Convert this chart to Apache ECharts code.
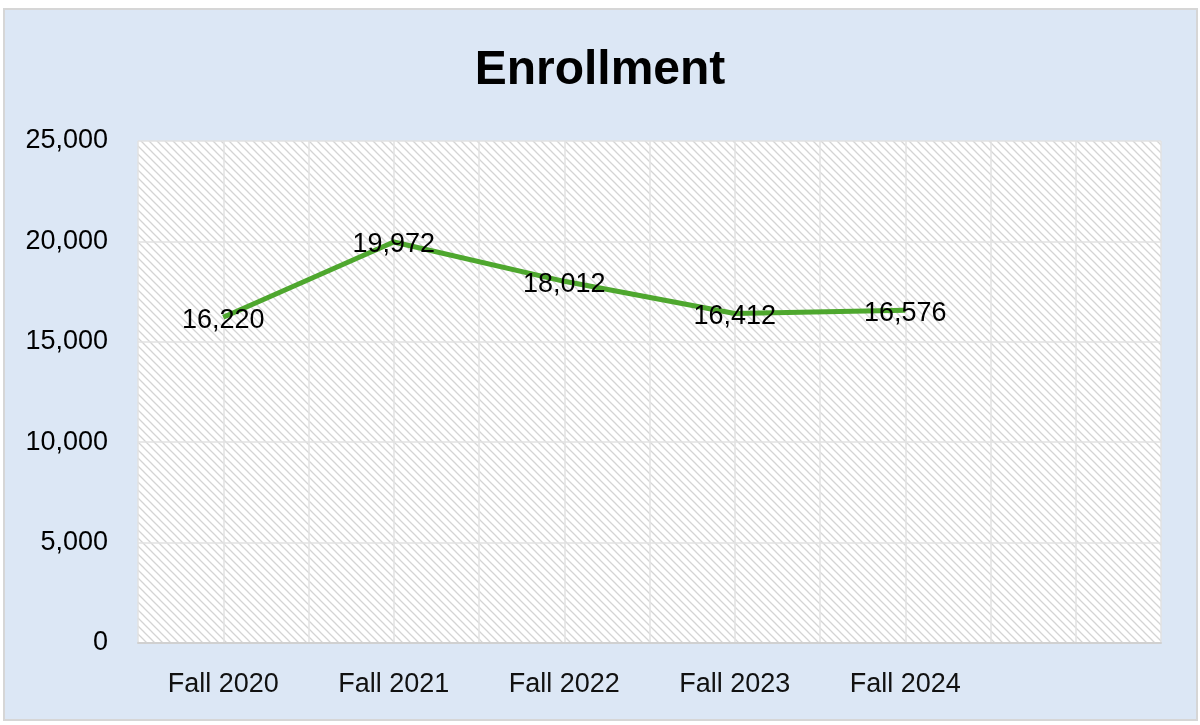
<!DOCTYPE html>
<html>
<head>
<meta charset="utf-8">
<script src="https://cdn.jsdelivr.net/npm/echarts@6/dist/echarts.min.js"></script>
<style>
html,body{margin:0;padding:0;background:#fff;}
#chart{width:1200px;height:725px;}
</style>
</head>
<body>
<div id="chart"></div>
<script>
const categories = ['Fall 2020', 'Fall 2021', 'Fall 2022', 'Fall 2023', 'Fall 2024', ''];
const enrollment = [16220, 19972, 18012, 16412, 16576];
const halfSteps = ['', '', '', '', '', '', '', '', '', '', '', ''];
const yTicks = { min: 0, max: 25000, interval: 5000 };

// hatched pattern tile
const tile = document.createElement('canvas');
tile.width = 8; tile.height = 8;
const c = tile.getContext('2d');
c.fillStyle = '#ffffff';
c.fillRect(0, 0, 8, 8);
c.strokeStyle = '#d4d4d4';
c.lineWidth = 1.3;
c.beginPath();
c.moveTo(-1, -1); c.lineTo(9, 9);
c.moveTo(7, -1); c.lineTo(9, 1);
c.moveTo(-1, 7); c.lineTo(1, 9);
c.stroke();

const chart = echarts.init(document.getElementById('chart'), null, { renderer: 'canvas' });
const fmt = v => v.toLocaleString('en-US');
chart.setOption({
  backgroundColor: '#ffffff',
  animation: false,
  graphic: [{
    type: 'rect', z: -10, silent: true,
    shape: { x: 4, y: 9, width: 1193, height: 711 },
    style: { fill: '#dce7f5', stroke: '#d6d6d6', lineWidth: 2 }
  }],
  title: {
    text: 'Enrollment',
    left: 'center',
    top: 42,
    textStyle: { fontFamily: 'Liberation Sans', fontWeight: 'bold', fontSize: 48, color: '#000' }
  },
  grid: {
    left: 138, right: 39, top: 141, bottom: 82,
    show: true,
    backgroundColor: { image: tile, repeat: 'repeat' },
    borderWidth: 0
  },
  xAxis: [{
    type: 'category',
    data: categories,
    boundaryGap: true,
    axisLine: { show: true, lineStyle: { color: '#d0d0d0', width: 2 } },
    axisTick: { show: false },
    splitLine: { show: false },
    axisLabel: { interval: 0, margin: 28, fontFamily: 'Liberation Sans', fontSize: 27, color: '#111' }
  }, {
    type: 'category',
    data: halfSteps,
    boundaryGap: true,
    position: 'bottom',
    axisLine: { show: false },
    axisTick: { show: false },
    axisLabel: { show: false },
    splitLine: { show: true, interval: 0, lineStyle: { color: '#e2e2e2', width: 1.5 } }
  }],
  yAxis: {
    type: 'value',
    min: yTicks.min, max: yTicks.max, interval: yTicks.interval,
    axisLine: { show: false },
    axisTick: { show: false },
    axisLabel: { margin: 30, fontFamily: 'Liberation Sans', fontSize: 27, color: '#000', formatter: fmt },
    splitLine: { show: true, lineStyle: { color: '#e2e2e2', width: 1.5 } }
  },
  series: [{
    type: 'line',
    xAxisIndex: 0,
    data: enrollment,
    symbol: 'circle',
    symbolSize: 0.1,
    itemStyle: { color: '#4ea72e' },
    lineStyle: { color: '#4ea72e', width: 5 },
    label: {
      show: true, position: 'inside', offset: [0, 3],
      fontFamily: 'Liberation Sans', fontSize: 27, color: '#000',
      formatter: p => fmt(p.value)
    },
    z: 3
  }]
});
</script>
</body>
</html>
